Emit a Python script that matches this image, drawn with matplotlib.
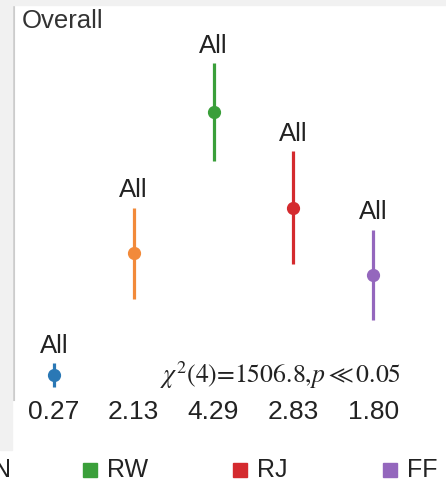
import matplotlib.pyplot as plt
from matplotlib.patches import Rectangle

# data
groups = ["BLN", "DNN", "RW", "RJ", "FF"]
means = [0.27, 2.13, 4.29, 2.83, 1.80]
errs = [0.18, 0.70, 0.75, 0.86, 0.69]
point_labels = ["All", "All", "All", "All", "All"]
colors = ["#2a78b5", "#f28a3a", "#3a9f3a", "#d42a2e", "#9467bd"]
stat_text = r"$\chi^2$(4)=1506.8,$p$$\ll$0.05"


def main():
    plt.rcParams['font.family'] = ['Liberation Sans', 'DejaVu Sans']
    plt.rcParams['mathtext.fontset'] = 'stix'

    W, H = 446, 496
    fig = plt.figure(figsize=(W / 100, H / 100), dpi=100, facecolor='white')

    # light grey margins of the cropped screenshot
    fig.patches.append(Rectangle((0, 1 - 450 / H), 12 / W, 450 / H,
                                 transform=fig.transFigure, color='#f1f1f1', zorder=0))
    fig.patches.append(Rectangle((0, 1 - 5 / H), 1, 5 / H,
                                 transform=fig.transFigure, color='#f1f1f1', zorder=0))

    ax = fig.add_axes([14 / W, 1 - 400 / H, 399 / W, 395 / H])
    ax.set_facecolor('none')
    for s in ['top', 'right', 'bottom']:
        ax.spines[s].set_visible(False)
    ax.spines['left'].set_color('#cccccc')
    ax.spines['left'].set_linewidth(1.5)
    ax.set_xticks([])
    ax.set_yticks([])
    ax.set_xlim(-0.5, 4.5)
    ax.set_ylim(-0.112, 5.93)

    for i, (m, e, c, lab) in enumerate(zip(means, errs, colors, point_labels)):
        ax.errorbar(i, m, yerr=e, fmt='o', color=c, ms=8.5, elinewidth=2.3,
                    capsize=0)
        ax.annotate(lab, (i, m + e), xytext=(0, 4), textcoords='offset points',
                    ha='center', va='bottom', fontsize=18.5, color='#222222')
        ax.text(i, -0.3, f"{m:.2f}", ha='center', va='center', fontsize=19,
                color='#222222', clip_on=False)

    ax.text(0.02, 0.99, "Overall", transform=ax.transAxes, ha='left', va='top',
            fontsize=18.5, color='#333333')
    ax.text(1.33, 0.27, stat_text, ha='left', va='center', fontsize=18.5,
            family='STIXGeneral', color='#222222')

    # legend row (partly cut off at the left edge)
    step = 150
    x0 = 83 - 2 * step
    yl = 1 - 470 / H
    for i, (g, c) in enumerate(zip(groups, colors)):
        xb = (x0 + i * step) / W
        fig.patches.append(Rectangle((xb, yl - 7 / H), 14 / W, 14 / H,
                                     transform=fig.transFigure, color=c))
        fig.text(xb + 24 / W, yl, g, ha='left', va='center', fontsize=18,
                 color='#222222')

    plt.savefig("out.png", dpi=100, facecolor=fig.get_facecolor())


if __name__ == "__main__":
    main()
